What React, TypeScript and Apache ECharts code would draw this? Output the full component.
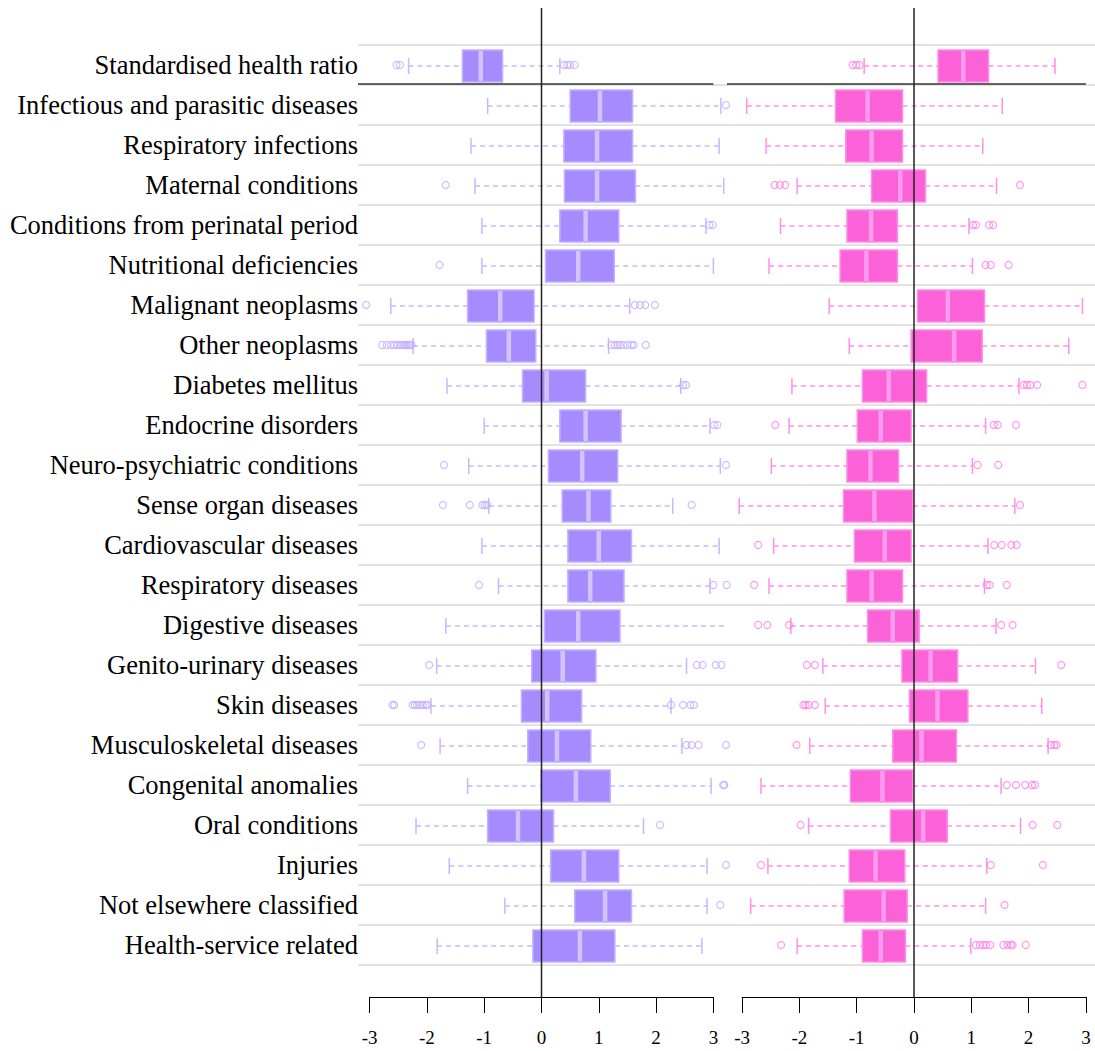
import React, { useEffect, useRef } from "react";
import * as echarts from "echarts";

const categories = [
  "Standardised health ratio",
  "Infectious and parasitic diseases",
  "Respiratory infections",
  "Maternal conditions",
  "Conditions from perinatal period",
  "Nutritional deficiencies",
  "Malignant neoplasms",
  "Other neoplasms",
  "Diabetes mellitus",
  "Endocrine disorders",
  "Neuro-psychiatric conditions",
  "Sense organ diseases",
  "Cardiovascular diseases",
  "Respiratory diseases",
  "Digestive diseases",
  "Genito-urinary diseases",
  "Skin diseases",
  "Musculoskeletal diseases",
  "Congenital anomalies",
  "Oral conditions",
  "Injuries",
  "Not elsewhere classified",
  "Health-service related",
];

// [lower whisker, Q1, median, Q3, upper whisker]
const leftBoxes = [
  [-2.32, -1.38, -1.06, -0.68, 0.32],
  [-0.94, 0.5, 1.02, 1.59, 3.13],
  [-1.23, 0.39, 0.97, 1.59, 3.1],
  [-1.16, 0.4, 0.97, 1.64, 3.18],
  [-1.04, 0.32, 0.77, 1.35, 2.87],
  [-1.04, 0.07, 0.64, 1.27, 3.0],
  [-2.63, -1.29, -0.72, -0.13, 1.54],
  [-2.24, -0.96, -0.57, -0.1, 1.17],
  [-1.65, -0.33, 0.09, 0.77, 2.43],
  [-1.0, 0.32, 0.77, 1.39, 2.94],
  [-1.27, 0.12, 0.71, 1.33, 3.12],
  [-0.92, 0.36, 0.82, 1.21, 2.29],
  [-1.04, 0.46, 1.0, 1.57, 3.1],
  [-0.75, 0.46, 0.85, 1.44, 2.94],
  [-1.67, 0.05, 0.64, 1.37, 3.3],
  [-1.83, -0.17, 0.37, 0.95, 2.53],
  [-1.93, -0.35, 0.1, 0.7, 2.26],
  [-1.77, -0.24, 0.27, 0.86, 2.45],
  [-1.29, -0.01, 0.6, 1.2, 2.96],
  [-2.19, -0.94, -0.41, 0.21, 1.78],
  [-1.61, 0.16, 0.74, 1.35, 2.89],
  [-0.64, 0.58, 1.11, 1.57, 2.89],
  [-1.82, -0.15, 0.67, 1.28, 2.8],
];

const leftOutliers = [
  [-2.53, -2.47, 0.39, 0.45, 0.5, 0.58],
  [3.22],
  [],
  [-1.67, 3.34],
  [2.93, 2.99],
  [-1.78],
  [-3.06, 1.63, 1.72, 1.81, 1.98],
  [-2.78, -2.7, -2.63, -2.57, -2.52, -2.47, -2.43, -2.39, -2.36, -2.33, -2.3, -2.27,
    1.22, 1.28, 1.33, 1.37, 1.43, 1.5, 1.57, 1.61, 1.82],
  [2.47, 2.52],
  [3.01, 3.07],
  [-1.7, 3.22],
  [-1.72, -1.25, -1.03, -0.99, -0.95, 2.62],
  [],
  [-1.09, 3.0, 3.23],
  [],
  [-1.96, 2.71, 2.81, 3.04, 3.14],
  [-2.6, -2.57, -2.25, -2.21, -2.17, -2.12, -2.07, -2.02, -1.99, 2.26, 2.47, 2.6, 2.66],
  [-2.1, 2.53, 2.62, 2.74, 3.22],
  [3.17, 3.19],
  [2.07],
  [3.22],
  [3.12],
  [],
];

const rightBoxes = [
  [-0.87, 0.42, 0.86, 1.3, 2.46],
  [-2.92, -1.37, -0.81, -0.2, 1.54],
  [-2.58, -1.19, -0.74, -0.2, 1.2],
  [-2.04, -0.74, -0.24, 0.2, 1.44],
  [-2.33, -1.17, -0.75, -0.29, 0.96],
  [-2.53, -1.29, -0.83, -0.29, 1.02],
  [-1.48, 0.06, 0.59, 1.23, 2.94],
  [-1.13, -0.05, 0.7, 1.19, 2.7],
  [-2.13, -0.9, -0.44, 0.22, 1.83],
  [-2.18, -0.99, -0.58, -0.05, 1.25],
  [-2.49, -1.17, -0.76, -0.27, 1.02],
  [-3.05, -1.23, -0.69, -0.02, 1.76],
  [-2.45, -1.04, -0.51, -0.05, 1.29],
  [-2.53, -1.17, -0.74, -0.2, 1.23],
  [-2.15, -0.81, -0.37, 0.09, 1.43],
  [-1.59, -0.21, 0.29, 0.76, 2.12],
  [-1.55, -0.08, 0.41, 0.94, 2.23],
  [-1.82, -0.37, 0.13, 0.74, 2.34],
  [-2.67, -1.11, -0.55, -0.02, 1.52],
  [-1.84, -0.41, 0.16, 0.58, 1.86],
  [-2.55, -1.13, -0.67, -0.16, 1.27],
  [-2.85, -1.22, -0.53, -0.12, 1.25],
  [-2.04, -0.9, -0.58, -0.15, 0.99],
];

const rightOutliers = [
  [-1.07, -1.01, -0.95],
  [],
  [],
  [-2.43, -2.34, -2.25, 1.85],
  [1.03, 1.08, 1.31, 1.38],
  [1.25, 1.34, 1.65],
  [],
  [],
  [1.91, 1.97, 2.03, 2.15, 2.94],
  [-2.42, 1.39, 1.46, 1.78],
  [1.11, 1.47],
  [1.85],
  [-2.72, 1.4, 1.53, 1.7, 1.79],
  [-2.79, 1.27, 1.32, 1.62],
  [-2.72, -2.56, -2.18, 1.52, 1.72],
  [-1.87, -1.73, 2.57],
  [-1.93, -1.89, -1.84, -1.73],
  [-2.05, 2.39, 2.45, 2.49],
  [1.62, 1.78, 1.94, 2.06, 2.11],
  [-1.98, 2.07, 2.5],
  [-2.67, 1.34, 2.25],
  [1.58],
  [-2.32, 1.08, 1.15, 1.21, 1.26, 1.33, 1.56, 1.63, 1.69, 1.72, 1.95],
];

const tickMin = -3;
const tickMax = 3;
const tickInterval = 1;
const zeroLine = 0;

// layout constants (pixels)
const W = 1095;
const H = 1051;
const UNIT = 57.3;
const LEFT_ZERO = 541.5;
const RIGHT_ZERO = 914;
const PANEL_LEFT_START = 358;
const PANEL_SPLIT = 727;
const ROWS_TOP = 45;
const ROWS_BOTTOM = 86;
const AXIS_Y = 997;
const SERIF = "'Liberation Serif', 'Times New Roman', serif";

const purple = {
  fill: "#a68bff",
  border: "#c4b0ff",
  median: "#d3c4ff",
  whisker: "#c9b6ff",
  outlier: "#c2adff",
};
const pink = {
  fill: "#fb62d8",
  border: "#ff8ce8",
  median: "#ff9cf0",
  whisker: "#ff8eec",
  outlier: "#ff80e8",
};

function makeRender(c: any) {
  return (params: any, api: any) => {
    const cat = api.value(0);
    const pLow = api.coord([api.value(1), cat]);
    const pQ1 = api.coord([api.value(2), cat]);
    const pMed = api.coord([api.value(3), cat]);
    const pQ3 = api.coord([api.value(4), cat]);
    const pHigh = api.coord([api.value(5), cat]);
    const band = api.size([0, 1])[1];
    const yc = pLow[1] + 1;
    const bh = band * 0.8;
    const ch = band * 0.4;
    const dash = { stroke: c.whisker, lineWidth: 1.3, lineDash: [5, 4] };
    const children: any[] = [
      { type: "line", shape: { x1: pLow[0], y1: yc, x2: pQ1[0], y2: yc }, style: dash },
      { type: "line", shape: { x1: pQ3[0], y1: yc, x2: pHigh[0], y2: yc }, style: dash },
      { type: "line", shape: { x1: pLow[0], y1: yc - ch / 2, x2: pLow[0], y2: yc + ch / 2 }, style: { stroke: c.whisker, lineWidth: 1.5 } },
      { type: "line", shape: { x1: pHigh[0], y1: yc - ch / 2, x2: pHigh[0], y2: yc + ch / 2 }, style: { stroke: c.whisker, lineWidth: 1.5 } },
      {
        type: "rect",
        shape: { x: pQ1[0], y: yc - bh / 2, width: pQ3[0] - pQ1[0], height: bh },
        style: { fill: c.fill, stroke: c.border, lineWidth: 1.5 },
      },
      { type: "line", shape: { x1: pMed[0], y1: yc - bh / 2 + 1, x2: pMed[0], y2: yc + bh / 2 - 1 }, style: { stroke: c.median, lineWidth: 4.5 } },
    ];
    if (params.dataIndex === 0) {
      const endX = api.coord([tickMax, cat])[0];
      const yb = pLow[1] + band / 2 - 1;
      children.push({
        type: "line",
        shape: { x1: params.coordSys.x, y1: yb, x2: endX, y2: yb },
        style: { stroke: "#333", lineWidth: 1.5 },
        z2: 10,
      });
    }
    return { type: "group", children };
  };
}

function boxData(boxes: number[][]) {
  return boxes.map((b, i) => [i, ...b]);
}
function outlierData(outs: number[][]) {
  const res: number[][] = [];
  outs.forEach((arr, i) => arr.forEach((v) => res.push([v, i])));
  return res;
}

export default function App() {
  const ref = useRef<HTMLDivElement>(null);
  useEffect(() => {
    document.body.style.margin = "0";
    const chart = echarts.init(ref.current!, null, { renderer: "svg" });
    const gridH = { top: ROWS_TOP, bottom: ROWS_BOTTOM };
    const catAxisHidden = (gi: number) => ({
      type: "category",
      data: categories,
      inverse: true,
      gridIndex: gi,
      show: false,
    });
    const axisGridTop = 8;
    const axisBottom = H - AXIS_Y;
    const valueAxisVisible = (gi: number) => ({
      type: "value",
      gridIndex: gi,
      min: tickMin,
      max: tickMax,
      interval: tickInterval,
      axisLine: { show: true, onZero: false, lineStyle: { color: "#000", width: 1 } },
      axisTick: { show: true, length: 16, lineStyle: { color: "#000", width: 1 } },
      axisLabel: { color: "#000", fontFamily: SERIF, fontSize: 19, margin: 31 },
      splitLine: { show: false },
    });
    const option: any = {
      animation: false,
      backgroundColor: "#fff",
      grid: [
        { left: PANEL_LEFT_START, right: 0, ...gridH },
        { left: PANEL_LEFT_START, width: PANEL_SPLIT - PANEL_LEFT_START, ...gridH },
        { left: PANEL_SPLIT, width: W - PANEL_SPLIT, ...gridH },
        { left: LEFT_ZERO - 3 * UNIT, width: 6 * UNIT, top: axisGridTop, bottom: axisBottom },
        { left: RIGHT_ZERO - 3 * UNIT, width: 6 * UNIT, top: axisGridTop, bottom: axisBottom },
      ],
      xAxis: [
        { type: "value", gridIndex: 0, show: false, min: 0, max: 1 },
        {
          type: "value", gridIndex: 1, show: false,
          min: (PANEL_LEFT_START - LEFT_ZERO) / UNIT,
          max: (PANEL_SPLIT - LEFT_ZERO) / UNIT,
        },
        {
          type: "value", gridIndex: 2, show: false,
          min: (PANEL_SPLIT - RIGHT_ZERO) / UNIT,
          max: (W - RIGHT_ZERO) / UNIT,
        },
        valueAxisVisible(3),
        valueAxisVisible(4),
      ],
      yAxis: [
        {
          type: "category",
          data: categories,
          inverse: true,
          gridIndex: 0,
          axisLine: { show: false },
          axisTick: { show: false },
          axisLabel: { color: "#000", fontFamily: SERIF, fontSize: 26.5, margin: 0 },
          splitLine: { show: true, lineStyle: { color: "#e2e2e2", width: 2 } },
        },
        catAxisHidden(1),
        catAxisHidden(2),
        { type: "value", gridIndex: 3, min: 0, max: 1, show: false },
        { type: "value", gridIndex: 4, min: 0, max: 1, show: false },
      ],
      series: [
        {
          type: "custom",
          xAxisIndex: 1,
          yAxisIndex: 1,
          clip: true,
          renderItem: makeRender(purple),
          encode: { x: [1, 2, 3, 4, 5], y: 0 },
          data: boxData(leftBoxes),
          z: 2,
        },
        {
          type: "custom",
          xAxisIndex: 2,
          yAxisIndex: 2,
          clip: true,
          renderItem: makeRender(pink),
          encode: { x: [1, 2, 3, 4, 5], y: 0 },
          data: boxData(rightBoxes),
          z: 2,
        },
        {
          type: "scatter",
          xAxisIndex: 1,
          yAxisIndex: 1,
          clip: true,
          symbol: "circle",
          symbolSize: 7,
          itemStyle: { color: "rgba(0,0,0,0)", borderColor: purple.outlier, borderWidth: 1.2 },
          data: outlierData(leftOutliers),
          z: 3,
        },
        {
          type: "scatter",
          xAxisIndex: 2,
          yAxisIndex: 2,
          clip: true,
          symbol: "circle",
          symbolSize: 7,
          itemStyle: { color: "rgba(0,0,0,0)", borderColor: pink.outlier, borderWidth: 1.2 },
          data: outlierData(rightOutliers),
          z: 3,
        },
        {
          type: "line",
          xAxisIndex: 3,
          yAxisIndex: 3,
          symbol: "none",
          lineStyle: { color: "#222", width: 1.5 },
          data: [[zeroLine, 0], [zeroLine, 1]],
          z: 5,
        },
        {
          type: "line",
          xAxisIndex: 4,
          yAxisIndex: 4,
          symbol: "none",
          lineStyle: { color: "#222", width: 1.5 },
          data: [[zeroLine, 0], [zeroLine, 1]],
          z: 5,
        },
      ],
    };
    chart.setOption(option);
    return () => chart.dispose();
  }, []);
  return (
    <div
      ref={ref}
      style={{ position: "fixed", left: 0, top: 0, width: W, height: H, background: "#fff" }}
    />
  );
}
